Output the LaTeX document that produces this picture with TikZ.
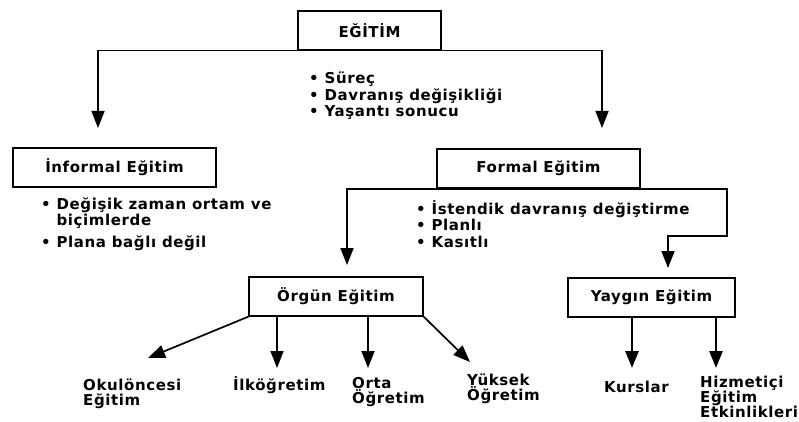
\documentclass[tikz,border=0pt]{standalone}
\usepackage{fontspec}
\setmainfont{DejaVu Sans}[LetterSpace=4]
\usetikzlibrary{arrows.meta}
\begin{document}
\begin{tikzpicture}[
    x=1pt, y=-1pt,
    font=\bfseries\fontsize{15}{16.5}\selectfont,
    box_node/.style={rectangle, draw, line width=1.3pt, minimum height=39pt, inner sep=0pt},
    list_node/.style={align=left, inner sep=0pt, anchor=north west},
    leaf_node/.style={align=left, inner sep=0pt, anchor=north west, font=\bfseries\fontsize{15}{15}\selectfont},
    directed/.style={-{Triangle[width=13pt,length=17pt]}, line width=1.7pt},
    thick_directed/.style={-{Triangle[width=13pt,length=17pt]}, line width=2.6pt}
]
    \useasboundingbox (0,0) rectangle (799,422);
        \node[box_node, minimum width=143pt] (E) at (369.5,30.5) {EĞİTİM};
        \node[box_node, minimum width=203pt] (IE) at (114.5,167.5) {İnformal Eğitim};
        \node[box_node, minimum width=203pt] (FE) at (538.5,168.5) {Formal Eğitim};
        \node[box_node, minimum width=174pt] (OE) at (336,296.5) {Örgün Eğitim};
        \node[box_node, minimum width=167pt] (YE) at (651.5,297.5) {Yaygın Eğitim};
        \node[list_node] (Ls) at (309,72) {• Süreç\\• Davranış değişikliği\\• Yaşantı sonucu};
        \node[list_node, font=\bfseries\fontsize{15}{14.5}\selectfont] (Li) at (41,198) {• Değişik zaman ortam ve\\\phantom{• }biçimlerde\\[6.5pt]• Plana bağlı değil};
        \node[list_node] (Lf) at (416,200) {• İstendik davranış değiştirme\\• Planlı\\• Kasıtlı};
        \node[leaf_node] (Ok) at (83,379) {Okulöncesi\\Eğitim};
        \node[leaf_node] (Il) at (233,376) {İlköğretim};
        \node[leaf_node] (Or) at (352,377) {Orta\\Öğretim};
        \node[leaf_node] (Yu) at (467,374) {Yüksek\\Öğretim};
        \node[leaf_node] (Ku) at (604,381) {Kurslar};
        \node[leaf_node] (Hi) at (700,376) {Hizmetiçi\\Eğitim\\Etkinlikleri};
        \coordinate (IEtip) at (98,128);
        \coordinate (FEtip) at (602,128);
        \coordinate (OEtip) at (347,265);
        \coordinate (YEbend) at (727,236);
        \coordinate (YEtip) at (668,268);
        \coordinate (Oktip) at (148,358);
        \coordinate (Iltip) at (277,368);
        \coordinate (Ortip) at (368,368);
        \coordinate (Yutip) at (470,362);
        \coordinate (Kutip) at (632,368);
        \coordinate (Hitip) at (716,368);
    \draw [directed] (E.south) -| (IEtip);
    \draw [directed] (E.south) -| (FEtip);
    \draw [directed] (FE.south) -| (OEtip);
    \draw [directed] (FE.south) -| (YEbend) -| (YEtip);
    \draw [directed] (OE.south west) -- (Oktip);
    \draw [directed] (OE.south -| Iltip) -- (Iltip);
    \draw [directed] (OE.south -| Ortip) -- (Ortip);
    \draw [directed] (OE.south east) -- (Yutip);
    \draw [thick_directed] (YE.south -| Kutip) -- (Kutip);
    \draw [thick_directed] (YE.south -| Hitip) -- (Hitip);

    \end{tikzpicture}
\end{document}
